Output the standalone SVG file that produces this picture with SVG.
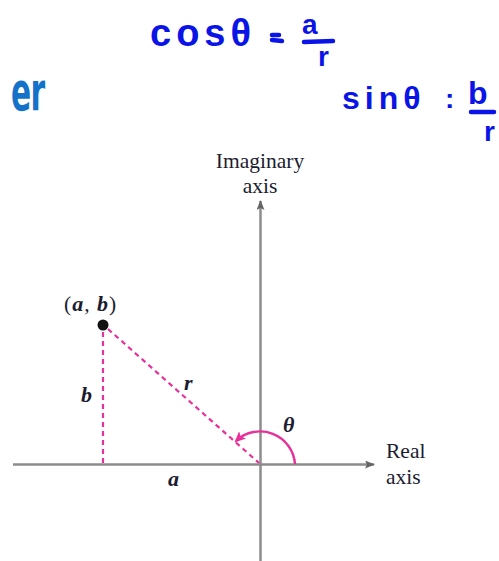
<svg xmlns="http://www.w3.org/2000/svg" width="499" height="561" viewBox="0 0 499 561">
<defs>
<style>
.lbl{font-family:"Liberation Serif","Times New Roman",serif;font-size:21.5px;fill:#1c1c30}
.it{font-style:italic;font-weight:bold;font-size:22px}
.ax{stroke:#8c8c8c;stroke-width:2.5;fill:none}
.dash{stroke:#e8309a;stroke-width:2.2;stroke-dasharray:5 4;fill:none}
.hw{font-family:"Liberation Sans",Arial,sans-serif;font-weight:bold;fill:#0a14e6}
.bar{stroke:#0a14e6;stroke-width:4.5;stroke-linecap:round}
</style>
<marker id="ah" markerWidth="10" markerHeight="8" refX="9" refY="4" orient="auto" markerUnits="userSpaceOnUse">
<path d="M0,0 L10,4 L0,8 L2,4 Z" fill="#666"/>
</marker>
<marker id="ahp" markerWidth="11" markerHeight="10" refX="9" refY="5" orient="auto" markerUnits="userSpaceOnUse">
<path d="M0,0 L11,5 L0,10 L2.5,5 Z" fill="#e8309a"/>
</marker>
</defs>
<rect width="499" height="561" fill="#fff"/>

<g id="title-fragment">
<text transform="translate(11,110) scale(0.55,1)" x="0" y="0" font-family="'DejaVu Sans','Liberation Sans',sans-serif" font-weight="bold" font-size="54" fill="#1472c8" letter-spacing="-1">er</text>
</g>

<g id="cos-note">
<text x="150" y="46" class="hw" font-size="38" letter-spacing="5">cosθ</text>
<line x1="272" y1="35" x2="279" y2="35" class="bar"/>
<line x1="272" y1="40" x2="282" y2="41" class="bar"/>
<text x="302" y="34" class="hw" font-size="28">a</text>
<line x1="304" y1="42" x2="333" y2="41" class="bar"/>
<text x="318" y="66" class="hw" font-size="28">r</text>
</g>

<g id="sin-note">
<text x="342" y="109" class="hw" font-size="32" letter-spacing="5">sinθ</text>
<text x="445" y="108" class="hw" font-size="28">:</text>
<text x="468" y="104" class="hw" font-size="32">b</text>
<line x1="471" y1="112" x2="494" y2="112" class="bar"/>
<text x="484" y="141" class="hw" font-size="28">r</text>
</g>

<g id="connectors">
<line x1="260.5" y1="561" x2="260.5" y2="201" class="ax" marker-end="url(#ah)"/>
<line x1="13" y1="464.5" x2="374" y2="464.5" class="ax" marker-end="url(#ah)"/>
<line x1="103" y1="332" x2="103" y2="463" class="dash"/>
<line x1="108" y1="329" x2="259" y2="463" class="dash"/>
<path d="M295,464 A35,35 0 0 0 236,441" stroke="#e8309a" stroke-width="2.4" fill="none" marker-end="url(#ahp)"/>
</g>

<g id="imag-axis-label">
<text x="260" y="168" class="lbl" text-anchor="middle">Imaginary</text>
<text x="260" y="193" class="lbl" text-anchor="middle">axis</text>
</g>

<g id="real-axis-label">
<text x="386" y="458" class="lbl">Real</text>
<text x="386" y="484" class="lbl">axis</text>
</g>

<g id="point-ab">
<circle cx="103" cy="325" r="5.5" fill="#111"/>
<text x="64" y="311" class="lbl" font-size="24" letter-spacing="1">(<tspan class="it" font-size="24">a</tspan>, <tspan class="it" font-size="24">b</tspan>)</text>
</g>

<g id="label-b"><text x="81" y="402" class="lbl it">b</text></g>
<g id="label-r"><text x="184" y="390" class="lbl it">r</text></g>
<g id="label-theta"><text x="283" y="432" class="lbl it">θ</text></g>
<g id="label-a"><text x="168" y="486" class="lbl it">a</text></g>
</svg>
